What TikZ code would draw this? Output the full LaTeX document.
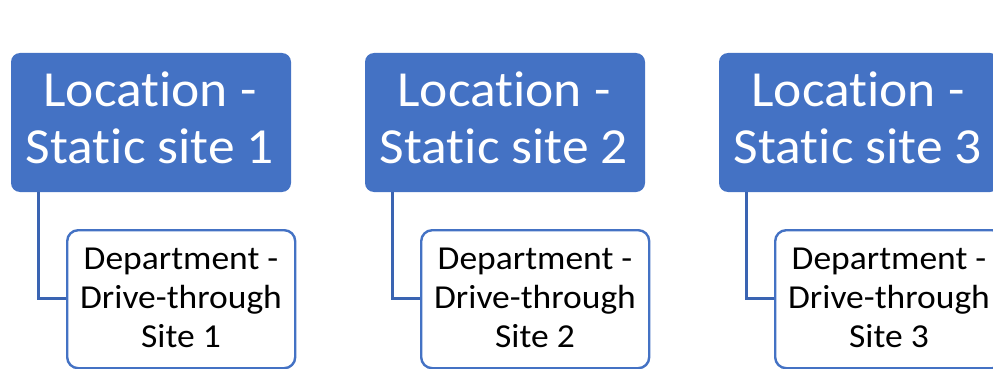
\documentclass[tikz,border=0pt]{standalone}
\usepackage{fontspec}
\setmainfont[RawFeature=-liga, FakeStretch=1.06]{Carlito}
\definecolor{locblue}{HTML}{4472C4}
\definecolor{linkblue}{HTML}{3A64B2}
\begin{document}
\begin{tikzpicture}[x=1pt,y=-1pt,
  location/.style={rectangle, rounded corners=9pt, fill=locblue, draw=none,
    minimum width=280pt, minimum height=139pt, inner sep=0pt},
  loclabel/.style={text=white, align=center, inner sep=0pt,
    font=\fontsize{50.5}{57}\selectfont},
  department/.style={rectangle, rounded corners=11pt, fill=white, draw=locblue,
    line width=2.4pt, minimum width=228pt, minimum height=138pt, inner sep=0pt},
  deplabel/.style={text=black, align=center, inner sep=0pt,
    font=\fontsize{33.5}{39}\selectfont},
  link/.style={draw=linkblue, line width=3pt}]
  \useasboundingbox (0,0) rectangle (993,369);
  \foreach \i in {1,2,3} {
    \pgfmathsetmacro{\dx}{(\i-1)*354}
    \node[location] (loc\i) at (151+\dx,122.5) {};
    \node[loclabel] (loctext\i) at (150+\dx,118) {Location -\\Static site \i};
    \node[department, anchor=north west] (dep\i) at (66+\dx,229) {};
    \node[deplabel] (deptext\i) at (181+\dx,298) {Department -\\Drive-through\\Site \i};
    \coordinate (drop\i) at (38.3+\dx,0);
    \draw[link] (loc\i.south -| drop\i) |- (dep\i.west |- 0,298);
  }
\end{tikzpicture}
\end{document}
